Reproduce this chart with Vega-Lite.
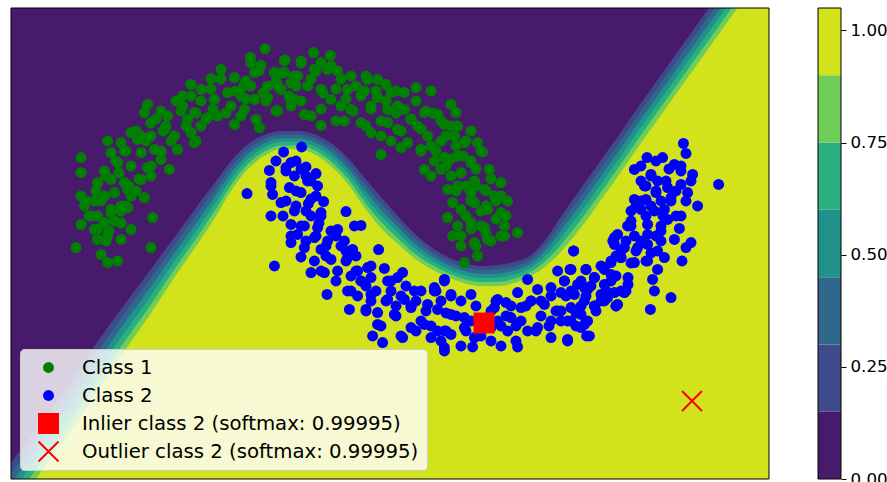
{
"$schema": "https://vega.github.io/schema/vega-lite/v6.json",
"padding": {"left": 10, "top": 7, "right": 0, "bottom": 0},
"autosize": {"type": "pad"},
"background": "white",
"config": {"font": "DejaVu Sans", "view": {"stroke": null}},
"spacing": 47,
"resolve": {"scale": {"x": "independent", "y": "independent", "color": "independent", "fill": "independent", "stroke": "independent", "shape": "independent", "size": "independent"}},
"datasets": {
"boundary": [
{"x":-1.395,"l15":-1.11,"l30":-1.163,"l45":-1.216,"l60":-1.269,"l75":-1.322,"l90":-1.375},
{"x":-1.27,"l15":-0.94,"l30":-0.99,"l45":-1.04,"l60":-1.09,"l75":-1.14,"l90":-1.19},
{"x":-1.145,"l15":-0.775,"l30":-0.824,"l45":-0.873,"l60":-0.922,"l75":-0.971,"l90":-1.02},
{"x":-0.995,"l15":-0.55,"l30":-0.6,"l45":-0.65,"l60":-0.7,"l75":-0.75,"l90":-0.8},
{"x":-0.845,"l15":-0.34,"l30":-0.387,"l45":-0.434,"l60":-0.481,"l75":-0.528,"l90":-0.575},
{"x":-0.695,"l15":-0.14,"l30":-0.184,"l45":-0.228,"l60":-0.272,"l75":-0.316,"l90":-0.36},
{"x":-0.57,"l15":0.03,"l30":-0.01,"l45":-0.05,"l60":-0.09,"l75":-0.13,"l90":-0.17},
{"x":-0.445,"l15":0.2,"l30":0.162,"l45":0.124,"l60":0.086,"l75":0.048,"l90":0.01},
{"x":-0.37,"l15":0.3,"l30":0.265,"l45":0.23,"l60":0.195,"l75":0.16,"l90":0.125},
{"x":-0.295,"l15":0.4,"l30":0.37,"l45":0.34,"l60":0.31,"l75":0.28,"l90":0.25},
{"x":-0.21,"l15":0.485,"l30":0.46,"l45":0.435,"l60":0.41,"l75":0.385,"l90":0.36},
{"x":-0.13,"l15":0.53,"l30":0.509,"l45":0.488,"l60":0.467,"l75":0.446,"l90":0.425},
{"x":-0.045,"l15":0.55,"l30":0.532,"l45":0.514,"l60":0.496,"l75":0.478,"l90":0.46},
{"x":0.04,"l15":0.55,"l30":0.532,"l45":0.514,"l60":0.496,"l75":0.478,"l90":0.46},
{"x":0.12,"l15":0.535,"l30":0.515,"l45":0.495,"l60":0.475,"l75":0.455,"l90":0.435},
{"x":0.205,"l15":0.49,"l30":0.467,"l45":0.444,"l60":0.421,"l75":0.398,"l90":0.375},
{"x":0.29,"l15":0.415,"l30":0.389,"l45":0.363,"l60":0.337,"l75":0.311,"l90":0.285},
{"x":0.37,"l15":0.32,"l30":0.29,"l45":0.26,"l60":0.23,"l75":0.2,"l90":0.17},
{"x":0.455,"l15":0.22,"l30":0.189,"l45":0.158,"l60":0.127,"l75":0.096,"l90":0.065},
{"x":0.54,"l15":0.125,"l30":0.097,"l45":0.069,"l60":0.041,"l75":0.013,"l90":-0.015},
{"x":0.62,"l15":0.04,"l30":0.015,"l45":-0.01,"l60":-0.035,"l75":-0.06,"l90":-0.085},
{"x":0.705,"l15":-0.03,"l30":-0.052,"l45":-0.074,"l60":-0.096,"l75":-0.118,"l90":-0.14},
{"x":0.79,"l15":-0.08,"l30":-0.1,"l45":-0.12,"l60":-0.14,"l75":-0.16,"l90":-0.18},
{"x":0.87,"l15":-0.11,"l30":-0.13,"l45":-0.15,"l60":-0.17,"l75":-0.19,"l90":-0.21},
{"x":0.955,"l15":-0.125,"l30":-0.145,"l45":-0.165,"l60":-0.185,"l75":-0.205,"l90":-0.225},
{"x":1.04,"l15":-0.12,"l30":-0.141,"l45":-0.162,"l60":-0.183,"l75":-0.204,"l90":-0.225},
{"x":1.12,"l15":-0.105,"l30":-0.126,"l45":-0.147,"l60":-0.168,"l75":-0.189,"l90":-0.21},
{"x":1.205,"l15":-0.07,"l30":-0.091,"l45":-0.112,"l60":-0.133,"l75":-0.154,"l90":-0.175},
{"x":1.28,"l15":0.01,"l30":-0.017,"l45":-0.044,"l60":-0.071,"l75":-0.098,"l90":-0.125},
{"x":1.34,"l15":0.1,"l30":0.066,"l45":0.032,"l60":-0.002,"l75":-0.036,"l90":-0.07},
{"x":1.405,"l15":0.195,"l30":0.157,"l45":0.119,"l60":0.081,"l75":0.043,"l90":0.005},
{"x":1.48,"l15":0.3,"l30":0.26,"l45":0.22,"l60":0.18,"l75":0.14,"l90":0.1},
{"x":1.555,"l15":0.405,"l30":0.365,"l45":0.325,"l60":0.285,"l75":0.245,"l90":0.205},
{"x":1.655,"l15":0.545,"l30":0.505,"l45":0.465,"l60":0.425,"l75":0.385,"l90":0.345},
{"x":1.755,"l15":0.69,"l30":0.65,"l45":0.61,"l60":0.57,"l75":0.53,"l90":0.49},
{"x":1.83,"l15":0.795,"l30":0.755,"l45":0.715,"l60":0.675,"l75":0.635,"l90":0.595},
{"x":1.955,"l15":0.97,"l30":0.93,"l45":0.89,"l60":0.85,"l75":0.81,"l90":0.77},
{"x":2.055,"l15":1.11,"l30":1.07,"l45":1.03,"l60":0.99,"l75":0.95,"l90":0.91},
{"x":2.155,"l15":1.25,"l30":1.21,"l45":1.17,"l60":1.13,"l75":1.09,"l90":1.05},
{"x":2.255,"l15":1.39,"l30":1.35,"l45":1.31,"l60":1.27,"l75":1.23,"l90":1.19},
{"x":2.395,"l15":1.59,"l30":1.55,"l45":1.51,"l60":1.47,"l75":1.43,"l90":1.39}
],
"bands": [
{"lo":0.0,"hi":0.15,"band":"b0"},
{"lo":0.15,"hi":0.3,"band":"b1"},
{"lo":0.3,"hi":0.45,"band":"b2"},
{"lo":0.45,"hi":0.6,"band":"b3"},
{"lo":0.6,"hi":0.75,"band":"b4"},
{"lo":0.75,"hi":0.9,"band":"b5"},
{"lo":0.9,"hi":1.05,"band":"b6"}
],
"points": [
{"x":-0.125,"y":0.961,"s":"Class 1"},{"x":-0.198,"y":0.917,"s":"Class 1"},{"x":-0.025,"y":0.905,"s":"Class 1"},{"x":-0.145,"y":0.878,"s":"Class 1"},{"x":-0.345,"y":0.858,"s":"Class 1"},{"x":-0.395,"y":0.812,"s":"Class 1"},{"x":-0.495,"y":0.783,"s":"Class 1"},{"x":-0.278,"y":0.817,"s":"Class 1"},{"x":-0.232,"y":0.775,"s":"Class 1"},{"x":-0.178,"y":0.842,"s":"Class 1"},{"x":-0.078,"y":0.842,"s":"Class 1"},{"x":0.022,"y":0.825,"s":"Class 1"},{"x":-0.112,"y":0.775,"s":"Class 1"},{"x":-0.045,"y":0.758,"s":"Class 1"},{"x":-0.537,"y":0.725,"s":"Class 1"},{"x":-0.445,"y":0.758,"s":"Class 1"},{"x":-0.378,"y":0.708,"s":"Class 1"},{"x":-0.312,"y":0.742,"s":"Class 1"},{"x":-0.245,"y":0.725,"s":"Class 1"},{"x":-0.178,"y":0.708,"s":"Class 1"},{"x":-0.112,"y":0.717,"s":"Class 1"},{"x":0.022,"y":0.708,"s":"Class 1"},{"x":-0.062,"y":0.65,"s":"Class 1"},{"x":0.005,"y":0.675,"s":"Class 1"},{"x":-0.712,"y":0.683,"s":"Class 1"},{"x":-0.728,"y":0.642,"s":"Class 1"},{"x":-0.645,"y":0.65,"s":"Class 1"},{"x":-0.612,"y":0.625,"s":"Class 1"},{"x":-0.695,"y":0.592,"s":"Class 1"},{"x":-0.537,"y":0.675,"s":"Class 1"},{"x":-0.478,"y":0.642,"s":"Class 1"},{"x":-0.412,"y":0.617,"s":"Class 1"},{"x":-0.362,"y":0.625,"s":"Class 1"},{"x":-0.512,"y":0.608,"s":"Class 1"},{"x":-0.445,"y":0.575,"s":"Class 1"},{"x":-0.278,"y":0.583,"s":"Class 1"},{"x":-0.228,"y":0.658,"s":"Class 1"},{"x":-0.17,"y":0.608,"s":"Class 1"},{"x":-0.153,"y":0.567,"s":"Class 1"},{"x":-0.795,"y":0.542,"s":"Class 1"},{"x":-0.912,"y":0.5,"s":"Class 1"},{"x":-0.845,"y":0.492,"s":"Class 1"},{"x":-0.762,"y":0.508,"s":"Class 1"},{"x":-0.695,"y":0.525,"s":"Class 1"},{"x":-0.628,"y":0.558,"s":"Class 1"},{"x":-0.578,"y":0.525,"s":"Class 1"},{"x":-0.562,"y":0.458,"s":"Class 1"},{"x":-0.495,"y":0.542,"s":"Class 1"},{"x":-0.478,"y":0.492,"s":"Class 1"},{"x":-0.895,"y":0.442,"s":"Class 1"},{"x":-0.828,"y":0.45,"s":"Class 1"},{"x":-0.745,"y":0.442,"s":"Class 1"},{"x":-0.678,"y":0.458,"s":"Class 1"},{"x":-0.645,"y":0.408,"s":"Class 1"},{"x":-0.603,"y":0.358,"s":"Class 1"},{"x":-1.045,"y":0.417,"s":"Class 1"},{"x":-0.928,"y":0.35,"s":"Class 1"},{"x":-0.862,"y":0.392,"s":"Class 1"},{"x":-0.795,"y":0.375,"s":"Class 1"},{"x":-0.712,"y":0.367,"s":"Class 1"},{"x":-1.045,"y":0.342,"s":"Class 1"},{"x":-0.962,"y":0.292,"s":"Class 1"},{"x":-0.895,"y":0.308,"s":"Class 1"},{"x":-0.828,"y":0.292,"s":"Class 1"},{"x":-0.745,"y":0.308,"s":"Class 1"},{"x":-0.695,"y":0.325,"s":"Class 1"},{"x":-0.728,"y":0.217,"s":"Class 1"},{"x":-1.045,"y":0.225,"s":"Class 1"},{"x":-1.028,"y":0.175,"s":"Class 1"},{"x":-0.978,"y":0.2,"s":"Class 1"},{"x":-0.928,"y":0.225,"s":"Class 1"},{"x":-0.878,"y":0.242,"s":"Class 1"},{"x":-0.812,"y":0.258,"s":"Class 1"},{"x":-0.962,"y":0.125,"s":"Class 1"},{"x":-0.895,"y":0.158,"s":"Class 1"},{"x":-0.845,"y":0.175,"s":"Class 1"},{"x":-0.812,"y":0.167,"s":"Class 1"},{"x":-0.928,"y":0.092,"s":"Class 1"},{"x":-0.878,"y":0.1,"s":"Class 1"},{"x":-1.045,"y":0.083,"s":"Class 1"},{"x":-0.978,"y":0.058,"s":"Class 1"},{"x":-0.912,"y":0.025,"s":"Class 1"},{"x":-0.845,"y":0.008,"s":"Class 1"},{"x":-0.795,"y":0.058,"s":"Class 1"},{"x":-0.962,"y":0.008,"s":"Class 1"},{"x":-0.687,"y":0.117,"s":"Class 1"},{"x":-0.695,"y":-0.033,"s":"Class 1"},{"x":-1.07,"y":-0.033,"s":"Class 1"},{"x":-0.945,"y":-0.067,"s":"Class 1"},{"x":-0.912,"y":-0.108,"s":"Class 1"},{"x":-0.862,"y":-0.1,"s":"Class 1"},
{"x":-0.028,"y":0.9,"s":"Class 1"},{"x":0.055,"y":0.9,"s":"Class 1"},{"x":0.118,"y":0.942,"s":"Class 1"},{"x":0.202,"y":0.928,"s":"Class 1"},{"x":0.155,"y":0.892,"s":"Class 1"},{"x":-0.028,"y":0.842,"s":"Class 1"},{"x":0.038,"y":0.825,"s":"Class 1"},{"x":0.122,"y":0.858,"s":"Class 1"},{"x":0.188,"y":0.858,"s":"Class 1"},{"x":0.238,"y":0.85,"s":"Class 1"},{"x":0.305,"y":0.825,"s":"Class 1"},{"x":0.388,"y":0.808,"s":"Class 1"},{"x":0.438,"y":0.808,"s":"Class 1"},{"x":0.48,"y":0.783,"s":"Class 1"},{"x":-0.062,"y":0.775,"s":"Class 1"},{"x":0.005,"y":0.792,"s":"Class 1"},{"x":0.088,"y":0.775,"s":"Class 1"},{"x":0.155,"y":0.758,"s":"Class 1"},{"x":0.205,"y":0.708,"s":"Class 1"},{"x":0.288,"y":0.758,"s":"Class 1"},{"x":0.372,"y":0.75,"s":"Class 1"},{"x":0.438,"y":0.717,"s":"Class 1"},{"x":0.505,"y":0.742,"s":"Class 1"},{"x":0.572,"y":0.742,"s":"Class 1"},{"x":0.63,"y":0.767,"s":"Class 1"},{"x":0.705,"y":0.75,"s":"Class 1"},{"x":-0.062,"y":0.65,"s":"Class 1"},{"x":0.005,"y":0.692,"s":"Class 1"},{"x":0.072,"y":0.633,"s":"Class 1"},{"x":0.105,"y":0.625,"s":"Class 1"},{"x":0.155,"y":0.578,"s":"Class 1"},{"x":0.255,"y":0.675,"s":"Class 1"},{"x":0.272,"y":0.6,"s":"Class 1"},{"x":0.355,"y":0.592,"s":"Class 1"},{"x":0.305,"y":0.658,"s":"Class 1"},{"x":0.405,"y":0.542,"s":"Class 1"},{"x":0.455,"y":0.525,"s":"Class 1"},{"x":0.405,"y":0.675,"s":"Class 1"},{"x":0.488,"y":0.658,"s":"Class 1"},{"x":0.538,"y":0.675,"s":"Class 1"},{"x":0.572,"y":0.658,"s":"Class 1"},{"x":0.605,"y":0.608,"s":"Class 1"},{"x":0.672,"y":0.642,"s":"Class 1"},{"x":0.738,"y":0.633,"s":"Class 1"},{"x":0.805,"y":0.683,"s":"Class 1"},{"x":0.83,"y":0.642,"s":"Class 1"},{"x":0.488,"y":0.592,"s":"Class 1"},{"x":0.538,"y":0.558,"s":"Class 1"},{"x":0.638,"y":0.575,"s":"Class 1"},{"x":0.688,"y":0.525,"s":"Class 1"},{"x":0.772,"y":0.583,"s":"Class 1"},{"x":0.838,"y":0.575,"s":"Class 1"},{"x":0.905,"y":0.55,"s":"Class 1"},{"x":0.455,"y":0.433,"s":"Class 1"},{"x":0.555,"y":0.467,"s":"Class 1"},{"x":0.588,"y":0.492,"s":"Class 1"},{"x":0.655,"y":0.458,"s":"Class 1"},{"x":0.705,"y":0.475,"s":"Class 1"},{"x":0.755,"y":0.5,"s":"Class 1"},{"x":0.822,"y":0.525,"s":"Class 1"},{"x":0.872,"y":0.492,"s":"Class 1"},{"x":0.938,"y":0.492,"s":"Class 1"},{"x":0.963,"y":0.445,"s":"Class 1"},{"x":0.672,"y":0.358,"s":"Class 1"},{"x":0.722,"y":0.4,"s":"Class 1"},{"x":0.772,"y":0.417,"s":"Class 1"},{"x":0.838,"y":0.425,"s":"Class 1"},{"x":0.905,"y":0.392,"s":"Class 1"},{"x":0.705,"y":0.325,"s":"Class 1"},{"x":0.755,"y":0.358,"s":"Class 1"},{"x":0.805,"y":0.325,"s":"Class 1"},{"x":0.855,"y":0.342,"s":"Class 1"},{"x":0.922,"y":0.3,"s":"Class 1"},{"x":0.997,"y":0.358,"s":"Class 1"},{"x":1.055,"y":0.292,"s":"Class 1"},{"x":0.788,"y":0.258,"s":"Class 1"},{"x":0.838,"y":0.275,"s":"Class 1"},{"x":0.905,"y":0.242,"s":"Class 1"},{"x":0.972,"y":0.258,"s":"Class 1"},{"x":1.022,"y":0.225,"s":"Class 1"},{"x":1.088,"y":0.2,"s":"Class 1"},{"x":0.813,"y":0.192,"s":"Class 1"},{"x":0.855,"y":0.158,"s":"Class 1"},{"x":0.922,"y":0.192,"s":"Class 1"},{"x":0.988,"y":0.158,"s":"Class 1"},{"x":1.055,"y":0.142,"s":"Class 1"},{"x":0.788,"y":0.117,"s":"Class 1"},{"x":0.838,"y":0.075,"s":"Class 1"},{"x":0.905,"y":0.092,"s":"Class 1"},{"x":0.972,"y":0.067,"s":"Class 1"},{"x":1.072,"y":0.075,"s":"Class 1"},{"x":1.138,"y":0.042,"s":"Class 1"},{"x":0.813,"y":0.025,"s":"Class 1"},{"x":0.855,"y":-0.025,"s":"Class 1"},{"x":0.922,"y":-0.008,"s":"Class 1"},{"x":0.988,"y":0.008,"s":"Class 1"},{"x":1.072,"y":0.025,"s":"Class 1"},{"x":0.872,"y":-0.108,"s":"Class 1"},{"x":0.938,"y":-0.075,"s":"Class 1"},
{"x":-0.695,"y":0.59,"s":"Class 1"},{"x":-0.635,"y":0.55,"s":"Class 1"},{"x":-0.745,"y":0.525,"s":"Class 1"},{"x":-0.855,"y":0.34,"s":"Class 1"},{"x":-0.805,"y":0.275,"s":"Class 1"},{"x":-0.755,"y":0.31,"s":"Class 1"},{"x":-0.945,"y":0.2,"s":"Class 1"},{"x":-0.895,"y":0.14,"s":"Class 1"},{"x":-0.845,"y":0.09,"s":"Class 1"},{"x":-0.96,"y":0.06,"s":"Class 1"},{"x":-0.82,"y":0.175,"s":"Class 1"},{"x":-0.195,"y":0.775,"s":"Class 1"},{"x":-0.135,"y":0.74,"s":"Class 1"},{"x":-0.07,"y":0.8,"s":"Class 1"},{"x":-0.005,"y":0.725,"s":"Class 1"},{"x":-0.22,"y":0.71,"s":"Class 1"},{"x":-0.445,"y":0.7,"s":"Class 1"},{"x":-0.385,"y":0.66,"s":"Class 1"},{"x":-0.32,"y":0.64,"s":"Class 1"},{"x":-0.42,"y":0.61,"s":"Class 1"},{"x":-0.045,"y":0.84,"s":"Class 1"},{"x":0.03,"y":0.775,"s":"Class 1"},{"x":0.105,"y":0.81,"s":"Class 1"},{"x":0.165,"y":0.74,"s":"Class 1"},{"x":0.055,"y":0.7,"s":"Class 1"},{"x":0.23,"y":0.76,"s":"Class 1"},{"x":0.28,"y":0.71,"s":"Class 1"},{"x":0.355,"y":0.725,"s":"Class 1"},{"x":0.315,"y":0.65,"s":"Class 1"},{"x":0.405,"y":0.66,"s":"Class 1"},{"x":0.455,"y":0.6,"s":"Class 1"},{"x":0.38,"y":0.575,"s":"Class 1"},{"x":0.53,"y":0.64,"s":"Class 1"},{"x":0.605,"y":0.61,"s":"Class 1"},{"x":0.655,"y":0.56,"s":"Class 1"},{"x":0.715,"y":0.64,"s":"Class 1"},{"x":0.555,"y":0.55,"s":"Class 1"},{"x":0.78,"y":0.525,"s":"Class 1"},{"x":0.83,"y":0.475,"s":"Class 1"},{"x":0.88,"y":0.5,"s":"Class 1"},{"x":0.805,"y":0.41,"s":"Class 1"},{"x":0.905,"y":0.4,"s":"Class 1"},{"x":0.955,"y":0.45,"s":"Class 1"},{"x":0.855,"y":0.34,"s":"Class 1"},{"x":0.93,"y":0.275,"s":"Class 1"},{"x":1.005,"y":0.31,"s":"Class 1"},{"x":0.83,"y":0.25,"s":"Class 1"},{"x":0.905,"y":0.2,"s":"Class 1"},{"x":0.98,"y":0.175,"s":"Class 1"},{"x":1.055,"y":0.225,"s":"Class 1"},{"x":0.88,"y":0.125,"s":"Class 1"},{"x":0.955,"y":0.075,"s":"Class 1"},{"x":1.03,"y":0.11,"s":"Class 1"},{"x":0.855,"y":0.025,"s":"Class 1"},{"x":0.93,"y":-0.025,"s":"Class 1"},{"x":1.005,"y":0.0,"s":"Class 1"},{"x":-0.295,"y":0.675,"s":"Class 1"},{"x":-0.545,"y":0.65,"s":"Class 1"},{"x":-0.595,"y":0.5,"s":"Class 1"},{"x":-0.645,"y":0.45,"s":"Class 1"},{"x":-0.52,"y":0.575,"s":"Class 1"},{"x":-0.995,"y":0.125,"s":"Class 1"},{"x":-0.92,"y":0.0,"s":"Class 1"},{"x":-0.795,"y":0.225,"s":"Class 1"},
{"x":-1.02,"y":0.2,"s":"Class 1"},{"x":-0.97,"y":0.25,"s":"Class 1"},{"x":-1.005,"y":0.125,"s":"Class 1"},{"x":-0.92,"y":0.325,"s":"Class 1"},{"x":-0.87,"y":0.4,"s":"Class 1"},{"x":-0.82,"y":0.45,"s":"Class 1"},{"x":-0.77,"y":0.55,"s":"Class 1"},{"x":-0.72,"y":0.5,"s":"Class 1"},{"x":-0.67,"y":0.61,"s":"Class 1"},{"x":-0.62,"y":0.575,"s":"Class 1"},{"x":-0.57,"y":0.7,"s":"Class 1"},{"x":-0.495,"y":0.725,"s":"Class 1"},{"x":-0.47,"y":0.64,"s":"Class 1"},{"x":-0.395,"y":0.76,"s":"Class 1"},{"x":-0.345,"y":0.81,"s":"Class 1"},{"x":-0.27,"y":0.75,"s":"Class 1"},{"x":-0.22,"y":0.8,"s":"Class 1"},{"x":-0.155,"y":0.85,"s":"Class 1"},{"x":-0.12,"y":0.7,"s":"Class 1"},{"x":0.055,"y":0.89,"s":"Class 1"},{"x":0.13,"y":0.85,"s":"Class 1"},{"x":0.205,"y":0.875,"s":"Class 1"},{"x":0.255,"y":0.81,"s":"Class 1"},{"x":0.33,"y":0.775,"s":"Class 1"},{"x":0.43,"y":0.75,"s":"Class 1"},{"x":0.48,"y":0.7,"s":"Class 1"},{"x":0.53,"y":0.75,"s":"Class 1"},{"x":0.63,"y":0.7,"s":"Class 1"},{"x":0.68,"y":0.65,"s":"Class 1"},{"x":0.755,"y":0.6,"s":"Class 1"},{"x":0.805,"y":0.575,"s":"Class 1"},{"x":0.73,"y":0.45,"s":"Class 1"},{"x":0.78,"y":0.375,"s":"Class 1"},{"x":0.865,"y":0.425,"s":"Class 1"},{"x":0.93,"y":0.36,"s":"Class 1"},{"x":0.98,"y":0.25,"s":"Class 1"},{"x":1.03,"y":0.2,"s":"Class 1"},{"x":0.88,"y":0.275,"s":"Class 1"},{"x":0.955,"y":0.15,"s":"Class 1"},{"x":1.08,"y":0.125,"s":"Class 1"},{"x":0.905,"y":0.06,"s":"Class 1"},{"x":0.98,"y":0.04,"s":"Class 1"},{"x":1.055,"y":0.025,"s":"Class 1"},{"x":-0.905,"y":0.05,"s":"Class 1"},{"x":-0.845,"y":0.15,"s":"Class 1"},{"x":-0.77,"y":0.25,"s":"Class 1"},{"x":-0.695,"y":0.375,"s":"Class 1"},{"x":-0.47,"y":0.5,"s":"Class 1"},{"x":-0.245,"y":0.625,"s":"Class 1"},{"x":-0.07,"y":0.65,"s":"Class 1"},{"x":0.155,"y":0.66,"s":"Class 1"},{"x":0.23,"y":0.6,"s":"Class 1"},{"x":0.505,"y":0.5,"s":"Class 1"},{"x":0.655,"y":0.45,"s":"Class 1"},{"x":0.38,"y":0.825,"s":"Class 1"},{"x":-0.195,"y":0.89,"s":"Class 1"},
{"x":0.058,"y":0.47,"s":"Class 2"},{"x":-0.032,"y":0.445,"s":"Class 2"},{"x":0.005,"y":0.392,"s":"Class 2"},{"x":-0.103,"y":0.353,"s":"Class 2"},{"x":-0.02,"y":0.367,"s":"Class 2"},{"x":0.08,"y":0.37,"s":"Class 2"},{"x":0.13,"y":0.337,"s":"Class 2"},{"x":-0.095,"y":0.292,"s":"Class 2"},{"x":0.022,"y":0.325,"s":"Class 2"},{"x":0.088,"y":0.3,"s":"Class 2"},{"x":0.138,"y":0.275,"s":"Class 2"},{"x":-0.215,"y":0.237,"s":"Class 2"},{"x":-0.087,"y":0.233,"s":"Class 2"},{"x":-0.003,"y":0.267,"s":"Class 2"},{"x":0.055,"y":0.242,"s":"Class 2"},{"x":-0.045,"y":0.192,"s":"Class 2"},{"x":0.092,"y":0.187,"s":"Class 2"},{"x":0.168,"y":0.197,"s":"Class 2"},{"x":-0.095,"y":0.125,"s":"Class 2"},{"x":0.022,"y":0.15,"s":"Class 2"},{"x":0.105,"y":0.125,"s":"Class 2"},{"x":0.155,"y":0.142,"s":"Class 2"},{"x":0.28,"y":0.147,"s":"Class 2"},{"x":0.005,"y":0.083,"s":"Class 2"},{"x":0.072,"y":0.075,"s":"Class 2"},{"x":0.138,"y":0.067,"s":"Class 2"},{"x":0.238,"y":0.058,"s":"Class 2"},{"x":0.322,"y":0.075,"s":"Class 2"},{"x":0.355,"y":0.078,"s":"Class 2"},{"x":0.038,"y":0.033,"s":"Class 2"},{"x":0.122,"y":0.017,"s":"Class 2"},{"x":0.188,"y":0.0,"s":"Class 2"},{"x":0.005,"y":-0.008,"s":"Class 2"},{"x":0.272,"y":0.0,"s":"Class 2"},{"x":0.072,"y":-0.033,"s":"Class 2"},{"x":0.155,"y":-0.042,"s":"Class 2"},{"x":0.313,"y":-0.042,"s":"Class 2"},{"x":0.443,"y":-0.043,"s":"Class 2"},{"x":0.055,"y":-0.08,"s":"Class 2"},{"x":0.122,"y":-0.1,"s":"Class 2"},{"x":0.205,"y":-0.092,"s":"Class 2"},{"x":0.288,"y":-0.083,"s":"Class 2"},{"x":-0.078,"y":-0.125,"s":"Class 2"},{"x":0.105,"y":-0.158,"s":"Class 2"},{"x":0.172,"y":-0.158,"s":"Class 2"},{"x":0.238,"y":-0.15,"s":"Class 2"},{"x":0.338,"y":-0.15,"s":"Class 2"},{"x":0.388,"y":-0.133,"s":"Class 2"},{"x":0.472,"y":-0.137,"s":"Class 2"},{"x":0.563,"y":-0.158,"s":"Class 2"},{"x":0.288,"y":-0.25,"s":"Class 2"},{"x":0.185,"y":-0.267,"s":"Class 2"},{"x":0.355,"y":-0.2,"s":"Class 2"},{"x":0.405,"y":-0.183,"s":"Class 2"},{"x":0.488,"y":-0.2,"s":"Class 2"},{"x":0.538,"y":-0.183,"s":"Class 2"},{"x":0.338,"y":-0.275,"s":"Class 2"},{"x":0.405,"y":-0.267,"s":"Class 2"},{"x":0.488,"y":-0.292,"s":"Class 2"},{"x":0.572,"y":-0.292,"s":"Class 2"},{"x":0.622,"y":-0.25,"s":"Class 2"},{"x":0.297,"y":-0.342,"s":"Class 2"},{"x":0.38,"y":-0.342,"s":"Class 2"},{"x":0.438,"y":-0.358,"s":"Class 2"},{"x":0.522,"y":-0.367,"s":"Class 2"},{"x":0.605,"y":-0.333,"s":"Class 2"},{"x":0.688,"y":-0.317,"s":"Class 2"},{"x":0.772,"y":-0.2,"s":"Class 2"},{"x":0.722,"y":-0.25,"s":"Class 2"},{"x":0.438,"y":-0.417,"s":"Class 2"},{"x":0.605,"y":-0.433,"s":"Class 2"},{"x":0.672,"y":-0.417,"s":"Class 2"},{"x":0.413,"y":-0.475,"s":"Class 2"},{"x":0.463,"y":-0.508,"s":"Class 2"},{"x":0.563,"y":-0.483,"s":"Class 2"},{"x":0.705,"y":-0.483,"s":"Class 2"},{"x":0.772,"y":-0.45,"s":"Class 2"},{"x":0.772,"y":-0.55,"s":"Class 2"},
{"x":0.772,"y":-0.192,"s":"Class 2"},{"x":0.722,"y":-0.233,"s":"Class 2"},{"x":0.805,"y":-0.267,"s":"Class 2"},{"x":0.905,"y":-0.267,"s":"Class 2"},{"x":0.738,"y":-0.342,"s":"Class 2"},{"x":0.805,"y":-0.367,"s":"Class 2"},{"x":0.872,"y":-0.383,"s":"Class 2"},{"x":0.738,"y":-0.45,"s":"Class 2"},{"x":0.805,"y":-0.467,"s":"Class 2"},{"x":0.872,"y":-0.433,"s":"Class 2"},{"x":0.772,"y":-0.533,"s":"Class 2"},{"x":0.922,"y":-0.483,"s":"Class 2"},{"x":0.913,"y":-0.53,"s":"Class 2"},{"x":1.005,"y":-0.5,"s":"Class 2"},{"x":1.038,"y":-0.292,"s":"Class 2"},{"x":1.08,"y":-0.308,"s":"Class 2"},{"x":1.138,"y":-0.258,"s":"Class 2"},{"x":1.088,"y":-0.45,"s":"Class 2"},{"x":1.138,"y":-0.53,"s":"Class 2"},{"x":1.038,"y":-0.4,"s":"Class 2"},{"x":1.105,"y":-0.383,"s":"Class 2"},{"x":1.155,"y":-0.333,"s":"Class 2"},{"x":1.188,"y":-0.192,"s":"Class 2"},{"x":1.238,"y":-0.242,"s":"Class 2"},{"x":1.205,"y":-0.3,"s":"Class 2"},{"x":1.272,"y":-0.317,"s":"Class 2"},{"x":1.305,"y":-0.233,"s":"Class 2"},{"x":1.355,"y":-0.258,"s":"Class 2"},{"x":1.338,"y":-0.15,"s":"Class 2"},{"x":1.4,"y":-0.142,"s":"Class 2"},{"x":1.48,"y":-0.142,"s":"Class 2"},{"x":1.418,"y":-0.05,"s":"Class 2"},{"x":1.372,"y":-0.2,"s":"Class 2"},{"x":1.438,"y":-0.217,"s":"Class 2"},{"x":1.522,"y":-0.183,"s":"Class 2"},{"x":1.572,"y":-0.133,"s":"Class 2"},{"x":1.605,"y":-0.1,"s":"Class 2"},{"x":1.655,"y":-0.083,"s":"Class 2"},{"x":1.614,"y":0.0,"s":"Class 2"},{"x":1.672,"y":-0.033,"s":"Class 2"},{"x":1.688,"y":0.075,"s":"Class 2"},{"x":1.638,"y":0.033,"s":"Class 2"},{"x":1.338,"y":-0.35,"s":"Class 2"},{"x":1.405,"y":-0.333,"s":"Class 2"},{"x":1.472,"y":-0.3,"s":"Class 2"},{"x":1.522,"y":-0.325,"s":"Class 2"},{"x":1.588,"y":-0.283,"s":"Class 2"},{"x":1.638,"y":-0.317,"s":"Class 2"},{"x":1.672,"y":-0.258,"s":"Class 2"},{"x":1.472,"y":-0.233,"s":"Class 2"},{"x":1.572,"y":-0.217,"s":"Class 2"},{"x":1.305,"y":-0.4,"s":"Class 2"},{"x":1.405,"y":-0.4,"s":"Class 2"},{"x":1.472,"y":-0.417,"s":"Class 2"},{"x":1.305,"y":-0.483,"s":"Class 2"},{"x":1.388,"y":-0.492,"s":"Class 2"},{"x":1.483,"y":-0.475,"s":"Class 2"},{"x":1.238,"y":-0.433,"s":"Class 2"},{"x":1.188,"y":-0.45,"s":"Class 2"},{"x":0.972,"y":-0.4,"s":"Class 2"},{"x":1.005,"y":-0.433,"s":"Class 2"},{"x":1.022,"y":-0.333,"s":"Class 2"},
{"x":1.967,"y":0.488,"s":"Class 2"},{"x":1.98,"y":0.438,"s":"Class 2"},{"x":1.785,"y":0.417,"s":"Class 2"},{"x":1.863,"y":0.417,"s":"Class 2"},{"x":1.722,"y":0.358,"s":"Class 2"},{"x":1.805,"y":0.333,"s":"Class 2"},{"x":1.922,"y":0.383,"s":"Class 2"},{"x":1.955,"y":0.35,"s":"Class 2"},{"x":2.013,"y":0.333,"s":"Class 2"},{"x":2.143,"y":0.283,"s":"Class 2"},{"x":1.772,"y":0.275,"s":"Class 2"},{"x":1.838,"y":0.3,"s":"Class 2"},{"x":1.888,"y":0.267,"s":"Class 2"},{"x":1.955,"y":0.283,"s":"Class 2"},{"x":1.988,"y":0.242,"s":"Class 2"},{"x":1.83,"y":0.242,"s":"Class 2"},{"x":1.722,"y":0.208,"s":"Class 2"},{"x":1.78,"y":0.208,"s":"Class 2"},{"x":1.855,"y":0.2,"s":"Class 2"},{"x":1.905,"y":0.217,"s":"Class 2"},{"x":2.038,"y":0.175,"s":"Class 2"},{"x":1.705,"y":0.15,"s":"Class 2"},{"x":1.755,"y":0.158,"s":"Class 2"},{"x":1.822,"y":0.15,"s":"Class 2"},{"x":1.872,"y":0.158,"s":"Class 2"},{"x":1.955,"y":0.125,"s":"Class 2"},{"x":1.705,"y":0.1,"s":"Class 2"},{"x":1.788,"y":0.083,"s":"Class 2"},{"x":1.888,"y":0.108,"s":"Class 2"},{"x":1.947,"y":0.063,"s":"Class 2"},{"x":1.622,"y":0.017,"s":"Class 2"},{"x":1.722,"y":0.025,"s":"Class 2"},{"x":1.788,"y":0.033,"s":"Class 2"},{"x":1.855,"y":0.05,"s":"Class 2"},{"x":1.922,"y":0.008,"s":"Class 2"},{"x":2.005,"y":-0.008,"s":"Class 2"},{"x":1.98,"y":-0.033,"s":"Class 2"},{"x":1.622,"y":-0.017,"s":"Class 2"},{"x":1.738,"y":-0.033,"s":"Class 2"},{"x":1.788,"y":-0.017,"s":"Class 2"},{"x":1.838,"y":-0.05,"s":"Class 2"},{"x":1.872,"y":-0.083,"s":"Class 2"},{"x":1.96,"y":-0.1,"s":"Class 2"},{"x":1.418,"y":-0.05,"s":"Class 2"},{"x":1.655,"y":-0.083,"s":"Class 2"},{"x":1.722,"y":-0.108,"s":"Class 2"},{"x":1.788,"y":-0.1,"s":"Class 2"},{"x":1.838,"y":-0.142,"s":"Class 2"},{"x":1.605,"y":-0.108,"s":"Class 2"},{"x":1.572,"y":-0.142,"s":"Class 2"},{"x":1.48,"y":-0.142,"s":"Class 2"},{"x":1.405,"y":-0.142,"s":"Class 2"},{"x":1.522,"y":-0.183,"s":"Class 2"},{"x":1.605,"y":-0.167,"s":"Class 2"},{"x":1.69,"y":-0.183,"s":"Class 2"},{"x":1.455,"y":-0.2,"s":"Class 2"},{"x":1.372,"y":-0.2,"s":"Class 2"},{"x":1.813,"y":-0.192,"s":"Class 2"},{"x":1.822,"y":-0.25,"s":"Class 2"},{"x":1.905,"y":-0.283,"s":"Class 2"},{"x":1.802,"y":-0.342,"s":"Class 2"},{"x":1.69,"y":-0.217,"s":"Class 2"},{"x":1.622,"y":-0.258,"s":"Class 2"},{"x":1.555,"y":-0.267,"s":"Class 2"},{"x":1.488,"y":-0.242,"s":"Class 2"},{"x":1.422,"y":-0.267,"s":"Class 2"},{"x":1.63,"y":-0.325,"s":"Class 2"},{"x":1.572,"y":-0.3,"s":"Class 2"},{"x":1.522,"y":-0.325,"s":"Class 2"},{"x":1.455,"y":-0.367,"s":"Class 2"},{"x":1.388,"y":-0.4,"s":"Class 2"},{"x":1.488,"y":-0.4,"s":"Class 2"},{"x":1.455,"y":-0.433,"s":"Class 2"},{"x":1.497,"y":-0.475,"s":"Class 2"},{"x":1.388,"y":-0.5,"s":"Class 2"},
{"x":-0.02,"y":0.35,"s":"Class 2"},{"x":0.055,"y":0.36,"s":"Class 2"},{"x":0.105,"y":0.3,"s":"Class 2"},{"x":0.03,"y":0.25,"s":"Class 2"},{"x":0.13,"y":0.225,"s":"Class 2"},{"x":-0.02,"y":0.2,"s":"Class 2"},{"x":0.08,"y":0.15,"s":"Class 2"},{"x":0.155,"y":0.125,"s":"Class 2"},{"x":0.055,"y":0.075,"s":"Class 2"},{"x":0.13,"y":0.025,"s":"Class 2"},{"x":0.205,"y":0.05,"s":"Class 2"},{"x":0.005,"y":0.025,"s":"Class 2"},{"x":0.255,"y":-0.025,"s":"Class 2"},{"x":0.18,"y":-0.075,"s":"Class 2"},{"x":0.28,"y":-0.1,"s":"Class 2"},{"x":0.33,"y":-0.15,"s":"Class 2"},{"x":0.405,"y":-0.125,"s":"Class 2"},{"x":0.355,"y":-0.2,"s":"Class 2"},{"x":0.43,"y":-0.25,"s":"Class 2"},{"x":0.505,"y":-0.2,"s":"Class 2"},{"x":0.48,"y":-0.3,"s":"Class 2"},{"x":0.555,"y":-0.275,"s":"Class 2"},{"x":0.605,"y":-0.325,"s":"Class 2"},{"x":0.53,"y":-0.375,"s":"Class 2"},{"x":0.655,"y":-0.25,"s":"Class 2"},{"x":0.68,"y":-0.35,"s":"Class 2"},{"x":0.755,"y":-0.3,"s":"Class 2"},{"x":0.83,"y":-0.375,"s":"Class 2"},{"x":0.78,"y":-0.45,"s":"Class 2"},{"x":0.855,"y":-0.3,"s":"Class 2"},{"x":0.905,"y":-0.4,"s":"Class 2"},{"x":0.955,"y":-0.475,"s":"Class 2"},{"x":1.005,"y":-0.35,"s":"Class 2"},{"x":1.055,"y":-0.425,"s":"Class 2"},{"x":1.105,"y":-0.325,"s":"Class 2"},{"x":1.155,"y":-0.4,"s":"Class 2"},{"x":1.205,"y":-0.3,"s":"Class 2"},{"x":1.255,"y":-0.375,"s":"Class 2"},{"x":1.305,"y":-0.275,"s":"Class 2"},{"x":1.355,"y":-0.35,"s":"Class 2"},{"x":1.405,"y":-0.25,"s":"Class 2"},{"x":1.455,"y":-0.325,"s":"Class 2"},{"x":1.505,"y":-0.225,"s":"Class 2"},{"x":1.555,"y":-0.3,"s":"Class 2"},{"x":1.605,"y":-0.2,"s":"Class 2"},{"x":1.655,"y":-0.25,"s":"Class 2"},{"x":1.555,"y":-0.125,"s":"Class 2"},{"x":1.63,"y":-0.075,"s":"Class 2"},{"x":1.68,"y":0.0,"s":"Class 2"},{"x":1.73,"y":-0.05,"s":"Class 2"},{"x":1.705,"y":0.075,"s":"Class 2"},{"x":1.78,"y":0.125,"s":"Class 2"},{"x":1.755,"y":0.2,"s":"Class 2"},{"x":1.83,"y":0.25,"s":"Class 2"},{"x":1.805,"y":0.325,"s":"Class 2"},{"x":1.88,"y":0.3,"s":"Class 2"},{"x":1.905,"y":0.2,"s":"Class 2"},{"x":1.855,"y":0.075,"s":"Class 2"},{"x":1.93,"y":0.125,"s":"Class 2"},{"x":1.955,"y":0.375,"s":"Class 2"},{"x":2.005,"y":0.3,"s":"Class 2"},{"x":1.755,"y":0.375,"s":"Class 2"},{"x":1.83,"y":0.025,"s":"Class 2"},{"x":1.78,"y":-0.1,"s":"Class 2"},{"x":1.63,"y":-0.325,"s":"Class 2"},{"x":1.43,"y":-0.425,"s":"Class 2"},{"x":1.355,"y":-0.4,"s":"Class 2"},{"x":1.23,"y":-0.45,"s":"Class 2"},{"x":1.13,"y":-0.5,"s":"Class 2"},{"x":1.055,"y":-0.525,"s":"Class 2"},{"x":0.855,"y":-0.525,"s":"Class 2"},{"x":0.755,"y":-0.5,"s":"Class 2"},{"x":0.63,"y":-0.45,"s":"Class 2"},{"x":0.555,"y":-0.475,"s":"Class 2"},{"x":0.455,"y":-0.425,"s":"Class 2"},{"x":0.38,"y":-0.35,"s":"Class 2"},{"x":0.305,"y":-0.25,"s":"Class 2"},{"x":0.23,"y":-0.2,"s":"Class 2"},{"x":0.155,"y":-0.15,"s":"Class 2"},
{"x":-0.07,"y":0.4,"s":"Class 2"},{"x":-0.095,"y":0.275,"s":"Class 2"},{"x":-0.035,"y":0.125,"s":"Class 2"},{"x":0.03,"y":0.4,"s":"Class 2"},{"x":0.08,"y":0.325,"s":"Class 2"},{"x":0.03,"y":0.175,"s":"Class 2"},{"x":0.105,"y":0.21,"s":"Class 2"},{"x":0.145,"y":0.09,"s":"Class 2"},{"x":0.08,"y":0.0,"s":"Class 2"},{"x":0.18,"y":-0.025,"s":"Class 2"},{"x":0.23,"y":0.025,"s":"Class 2"},{"x":0.28,"y":-0.05,"s":"Class 2"},{"x":0.33,"y":-0.075,"s":"Class 2"},{"x":0.305,"y":-0.175,"s":"Class 2"},{"x":0.38,"y":-0.225,"s":"Class 2"},{"x":0.405,"y":-0.3,"s":"Class 2"},{"x":0.505,"y":-0.25,"s":"Class 2"},{"x":0.53,"y":-0.325,"s":"Class 2"},{"x":0.58,"y":-0.225,"s":"Class 2"},{"x":0.63,"y":-0.3,"s":"Class 2"},{"x":0.655,"y":-0.4,"s":"Class 2"},{"x":0.73,"y":-0.25,"s":"Class 2"},{"x":0.705,"y":-0.425,"s":"Class 2"},{"x":0.78,"y":-0.36,"s":"Class 2"},{"x":0.805,"y":-0.275,"s":"Class 2"},{"x":0.88,"y":-0.45,"s":"Class 2"},{"x":0.93,"y":-0.325,"s":"Class 2"},{"x":1.005,"y":-0.425,"s":"Class 2"},{"x":1.08,"y":-0.375,"s":"Class 2"},{"x":1.03,"y":-0.3,"s":"Class 2"},{"x":1.13,"y":-0.425,"s":"Class 2"},{"x":1.18,"y":-0.325,"s":"Class 2"},{"x":1.255,"y":-0.3,"s":"Class 2"},{"x":1.295,"y":-0.425,"s":"Class 2"},{"x":1.33,"y":-0.35,"s":"Class 2"},{"x":1.38,"y":-0.275,"s":"Class 2"},{"x":1.43,"y":-0.36,"s":"Class 2"},{"x":1.48,"y":-0.275,"s":"Class 2"},{"x":1.53,"y":-0.35,"s":"Class 2"},{"x":1.58,"y":-0.25,"s":"Class 2"},{"x":1.63,"y":-0.175,"s":"Class 2"},{"x":1.68,"y":-0.25,"s":"Class 2"},{"x":1.705,"y":-0.11,"s":"Class 2"},{"x":1.655,"y":-0.05,"s":"Class 2"},{"x":1.755,"y":0.0,"s":"Class 2"},{"x":1.805,"y":-0.06,"s":"Class 2"},{"x":1.73,"y":0.175,"s":"Class 2"},{"x":1.805,"y":0.175,"s":"Class 2"},{"x":1.855,"y":0.0,"s":"Class 2"},{"x":1.78,"y":0.275,"s":"Class 2"},{"x":1.83,"y":0.4,"s":"Class 2"},{"x":1.895,"y":0.36,"s":"Class 2"},{"x":1.93,"y":0.25,"s":"Class 2"},{"x":1.98,"y":0.2,"s":"Class 2"},{"x":1.865,"y":0.125,"s":"Class 2"},{"x":1.755,"y":0.3,"s":"Class 2"},
{"x":0.97,"y":-0.41,"s":"Inlier class 2 (softmax: 0.99995)"},
{"x":2.01,"y":-0.8,"s":"Outlier class 2 (softmax: 0.99995)"}
]
},
"hconcat": [
{
"width": 758,
"height": 471,
"view": {"fill": "#481a6c", "stroke": null},
"layer": [
{"data": {"name": "boundary"}, "mark": {"type": "area", "color": "#3e4a89", "clip": true, "interpolate": "monotone"},
 "encoding": {"x": {"field": "x", "type": "quantitative", "scale": {"domain": [-1.395, 2.395], "nice": false, "zero": false}, "axis": null},
  "y": {"field": "l15", "type": "quantitative", "scale": {"domain": [-1.19, 1.165], "nice": false, "zero": false}, "axis": null},
  "y2": {"datum": -1.6}}},
{"data": {"name": "boundary"}, "mark": {"type": "area", "color": "#30678d", "clip": true, "interpolate": "monotone"},
 "encoding": {"x": {"field": "x", "type": "quantitative"}, "y": {"field": "l30", "type": "quantitative"}, "y2": {"datum": -1.6}}},
{"data": {"name": "boundary"}, "mark": {"type": "area", "color": "#21918c", "clip": true, "interpolate": "monotone"},
 "encoding": {"x": {"field": "x", "type": "quantitative"}, "y": {"field": "l45", "type": "quantitative"}, "y2": {"datum": -1.6}}},
{"data": {"name": "boundary"}, "mark": {"type": "area", "color": "#2ab07f", "clip": true, "interpolate": "monotone"},
 "encoding": {"x": {"field": "x", "type": "quantitative"}, "y": {"field": "l60", "type": "quantitative"}, "y2": {"datum": -1.6}}},
{"data": {"name": "boundary"}, "mark": {"type": "area", "color": "#6ece58", "clip": true, "interpolate": "monotone"},
 "encoding": {"x": {"field": "x", "type": "quantitative"}, "y": {"field": "l75", "type": "quantitative"}, "y2": {"datum": -1.6}}},
{"data": {"name": "boundary"}, "mark": {"type": "area", "color": "#d2e21b", "clip": true, "interpolate": "monotone"},
 "encoding": {"x": {"field": "x", "type": "quantitative"}, "y": {"field": "l90", "type": "quantitative"}, "y2": {"datum": -1.6}}},
{"data": {"name": "points"}, "mark": {"type": "point", "filled": true, "opacity": 1, "strokeWidth": 2},
 "encoding": {
  "x": {"field": "x", "type": "quantitative"},
  "y": {"field": "y", "type": "quantitative"},
  "fill": {"field": "s", "type": "ordinal",
   "scale": {"type": "ordinal", "domain": ["Class 1", "Class 2", "Inlier class 2 (softmax: 0.99995)", "Outlier class 2 (softmax: 0.99995)"], "range": ["#008000", "#0000ff", "#ff0000", "transparent"]},
   "legend": {"title": null, "orient": "bottom-left", "offset": 9, "fillColor": "rgba(255,255,255,0.8)", "strokeColor": "#cccccc", "cornerRadius": 4, "padding": 8, "rowPadding": 7, "clipHeight": 21, "labelFont": "DejaVu Sans", "labelFontSize": 19.7, "labelColor": "black", "labelLimit": 800, "symbolOffset": 9, "labelOffset": 22, "symbolStrokeWidth": 2}},
  "stroke": {"field": "s", "type": "ordinal",
   "scale": {"type": "ordinal", "domain": ["Class 1", "Class 2", "Inlier class 2 (softmax: 0.99995)", "Outlier class 2 (softmax: 0.99995)"], "range": ["transparent", "transparent", "transparent", "#ff0000"]}},
  "shape": {"field": "s", "type": "ordinal",
   "scale": {"type": "ordinal", "domain": ["Class 1", "Class 2", "Inlier class 2 (softmax: 0.99995)", "Outlier class 2 (softmax: 0.99995)"], "range": ["circle", "circle", "square", "M-1,-1L1,1M1,-1L-1,1"]}},
  "size": {"field": "s", "type": "ordinal",
   "scale": {"type": "ordinal", "domain": ["Class 1", "Class 2", "Inlier class 2 (softmax: 0.99995)", "Outlier class 2 (softmax: 0.99995)"], "range": [120, 120, 441, 400]}}
 }},
{"data": {"values": [{}]}, "mark": {"type": "rect", "filled": false, "stroke": "black", "strokeWidth": 1},
 "encoding": {"x": {"datum": -1.395, "type": "quantitative"}, "x2": {"datum": 2.395}, "y": {"datum": -1.19, "type": "quantitative"}, "y2": {"datum": 1.165}}}
]
},
{
"width": 23,
"height": 471,
"layer": [
{"data": {"name": "bands"}, "mark": {"type": "rect"},
 "encoding": {
  "y": {"field": "lo", "type": "quantitative", "scale": {"domain": [0, 1.05], "nice": false, "zero": false},
   "axis": {"orient": "right", "values": [0, 0.25, 0.5, 0.75, 1], "format": ".2f", "labelFont": "DejaVu Sans", "labelFontSize": 16.7, "labelColor": "black", "tickColor": "black", "tickSize": 5, "tickWidth": 1, "labelPadding": 4, "domain": false, "grid": false, "title": null}},
  "y2": {"field": "hi"},
  "color": {"field": "band", "type": "nominal", "scale": {"domain": ["b0", "b1", "b2", "b3", "b4", "b5", "b6"], "range": ["#481a6c", "#3e4a89", "#30678d", "#21918c", "#2ab07f", "#6ece58", "#d2e21b"]}, "legend": null}
 }},
{"data": {"values": [{}]}, "mark": {"type": "rect", "filled": false, "stroke": "black", "strokeWidth": 1},
 "encoding": {"y": {"datum": 0, "type": "quantitative"}, "y2": {"datum": 1.05}}}
]
}
]
}
